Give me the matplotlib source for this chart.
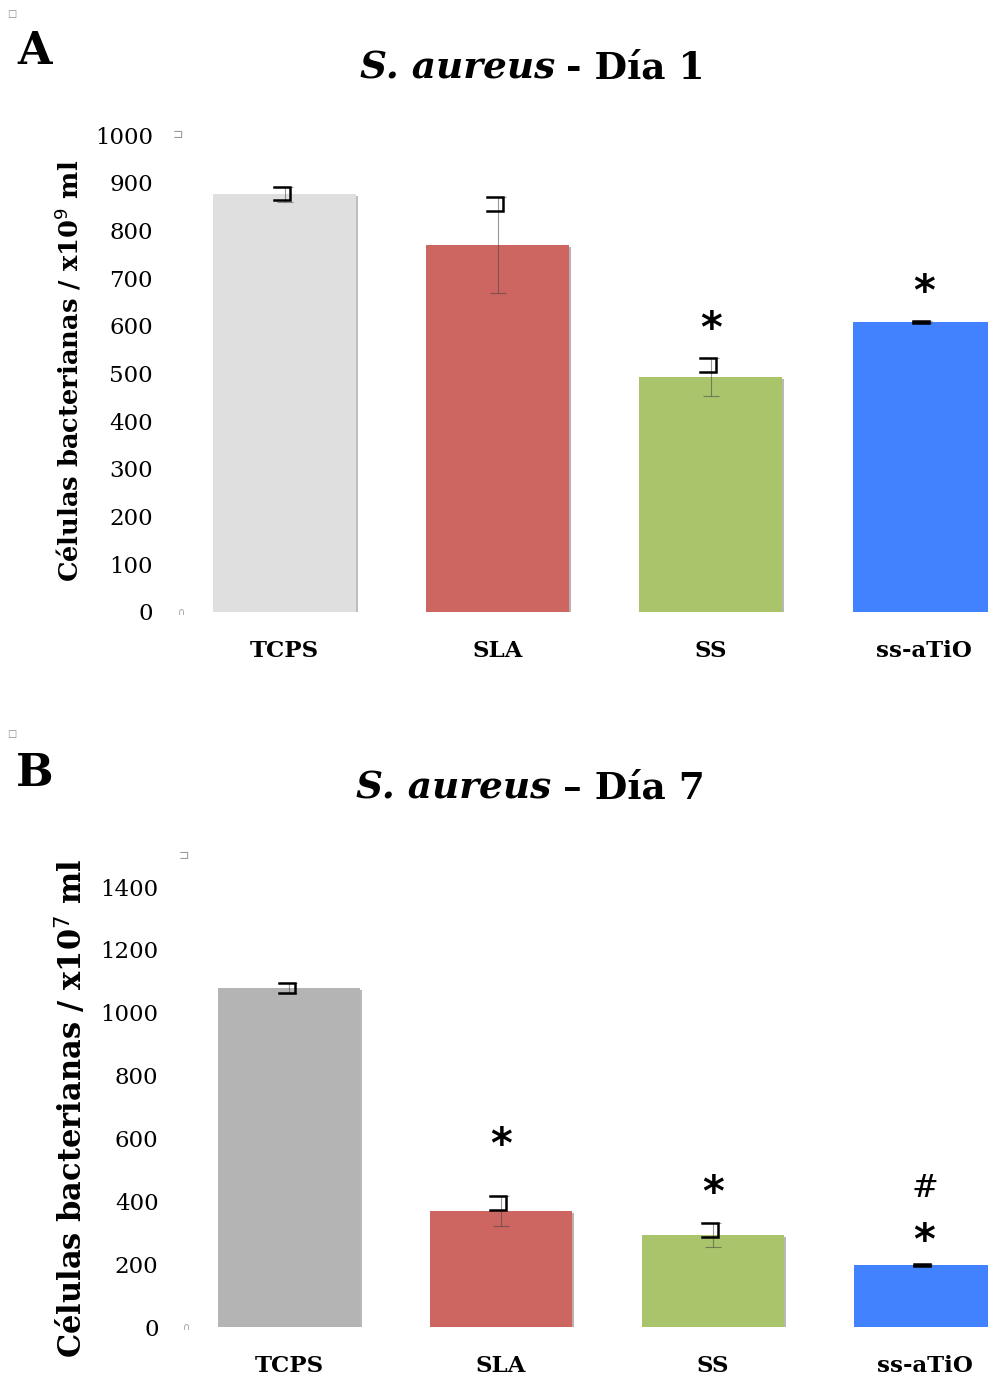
import matplotlib
matplotlib.use('Agg')
import matplotlib.pyplot as plt
import matplotlib.patheffects as pe

# Bar data
categories = ['TCPS', 'SLA', 'SS', 'ss-aTiO']
colors_day1 = ['#dfdfdf', '#cd6660', '#aac46c', '#4282fe']
colors_day7 = ['#b4b4b4', '#cd6660', '#aac46c', '#4282fe']

day1_values = [876, 769, 493, 608]
day1_errors = [16, 100, 40, 3]
day7_values = [1079, 369, 293, 197]
day7_errors = [15, 48, 38, 4]

# significance marks and the level (data units) where they sit
day1_marks = ['', '', '*', '*']
day1_mark_levels = [0, 0, 608, 685]
day7_marks = ['', '*', '*', '*']
day7_mark_levels = [0, 601, 449, 296]
day7_hash = ['', '', '', '#']
day7_hash_levels = [0, 0, 0, 442]

day1_ticks = [0, 100, 200, 300, 400, 500, 600, 700, 800, 900, 1000]
day7_ticks = [0, 200, 400, 600, 800, 1000, 1200, 1400]

plt.rcParams['font.family'] = 'DejaVu Serif'

fig = plt.figure(figsize=(9.88, 13.83), dpi=100)


def draw_panel(ax, values, errors, colors, ymax, ticks, bracket_h, ylab_size, ylab_xy):
    x = list(range(len(values)))
    ax.bar(x, values, width=0.67, color=colors, zorder=2,
           path_effects=[pe.SimplePatchShadow(offset=(1.5, -1.5), alpha=0.35), pe.Normal()])
    ax.errorbar(x, values, yerr=errors, fmt='none', ecolor='#444444', alpha=0.55,
                elinewidth=0.8, capsize=6, capthick=0.8, zorder=3)
    # the odd black bracket glyphs at the top of each error bar
    for i in x:
        top = values[i] + errors[i]
        h = min(2 * errors[i], bracket_h)
        ax.plot([i - 0.05, i + 0.025, i + 0.025, i - 0.05], [top, top, top - h, top - h],
                color='k', lw=1.8, zorder=4, solid_joinstyle='miter')
    ax.set_ylim(0, ymax)
    ax.set_xlim(-0.5, 3.30)
    ax.set_yticks(ticks)
    ax.set_xticks(x)
    ax.set_xticklabels(categories, fontweight='bold', fontsize=16.5)
    ax.tick_params(axis='y', length=0, pad=18, labelsize=16.5)
    ax.tick_params(axis='x', length=0, pad=20)
    for s in ax.spines.values():
        s.set_visible(False)
    ax.text(ylab_xy[0], ylab_xy[1], r'Células bacterianas / x10$^{%s}$ ml' % ylab_xy[2],
            transform=ax.transAxes, rotation=90, ha='center', va='center',
            fontweight='bold', fontsize=ylab_size)
    # small grey markers at the corners of the plot area
    ax.text(0.0, 1.0, '⊐', transform=ax.transAxes, ha='center', va='center',
            color='#999999', fontsize=9, family='DejaVu Sans')
    ax.text(0.004, 0.0, '∩', transform=ax.transAxes, ha='center', va='center',
            color='#999999', fontsize=7, family='DejaVu Sans')


def put_marks(ax, marks, levels, size, fam, weight, dy):
    for i, m in enumerate(marks):
        if m:
            ax.annotate(m, (i, levels[i]), xytext=(0, dy), textcoords='offset points',
                        ha='center', va='center', fontsize=size, family=fam,
                        fontweight=weight, zorder=5)


# Panel A - day 1
ax1 = fig.add_axes([178 / 988, 1 - 612 / 1383, 810 / 988, 477 / 1383])
draw_panel(ax1, day1_values, day1_errors, colors_day1, 1000, day1_ticks, 29, 18.5,
           (-0.136, 0.505, '9'))
put_marks(ax1, day1_marks, day1_mark_levels, 30, 'DejaVu Sans', 'bold', -5.5)

# Panel B - day 7
ax2 = fig.add_axes([183.5 / 988, 1 - 1327 / 1383, 804.5 / 988, 471.4 / 1383])
draw_panel(ax2, day7_values, day7_errors, colors_day7, 1500, day7_ticks, 45, 22,
           (-0.139, 0.465, '7'))
put_marks(ax2, day7_marks, day7_mark_levels, 30, 'DejaVu Sans', 'bold', -5.5)
put_marks(ax2, day7_hash, day7_hash_levels, 23, 'DejaVu Serif', 'normal', 0)

# titles: italic species name + bold day
fig.text(555 / 988, 1 - 68 / 1383, 'S. aureus', ha='right', va='center',
         fontsize=27, fontweight='bold', fontstyle='italic')
fig.text(566 / 988, 1 - 68 / 1383, '- Día 1', ha='left', va='center',
         fontsize=27, fontweight='bold')
fig.text(551 / 988, 1 - 788 / 1383, 'S. aureus', ha='right', va='center',
         fontsize=27, fontweight='bold', fontstyle='italic')
fig.text(563 / 988, 1 - 788 / 1383, '– Día 7', ha='left', va='center',
         fontsize=27, fontweight='bold')

# panel letters
fig.text(35 / 988, 1 - 52 / 1383, 'A', ha='center', va='center', fontsize=32, fontweight='bold')
fig.text(35 / 988, 1 - 773 / 1383, 'B', ha='center', va='center', fontsize=32, fontweight='bold')
fig.text(12 / 988, 1 - 14 / 1383, '□', ha='center', va='center', fontsize=7,
         color='#888888', family='DejaVu Sans')
fig.text(12 / 988, 1 - 734 / 1383, '□', ha='center', va='center', fontsize=7,
         color='#888888', family='DejaVu Sans')

plt.savefig('out.png', dpi=100)
